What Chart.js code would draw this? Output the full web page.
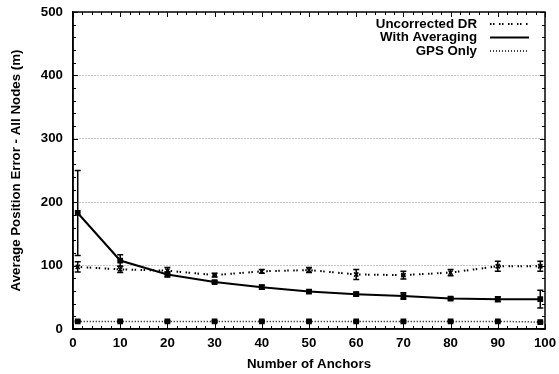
<!DOCTYPE html>
<html>
<head>
<meta charset="utf-8">
<script src="https://cdn.jsdelivr.net/npm/chart.js@4/dist/chart.umd.min.js"></script>
<style>
  body { margin: 0; background: #fff; }
  canvas { display: block; }
</style>
</head>
<body>
<canvas id="grafica" width="559" height="374"></canvas>
<script>
const anchors = [1, 10, 20, 30, 40, 50, 60, 70, 80, 90, 99];
const uncorrected = [98, 94, 92, 85, 91, 93, 86, 85, 89, 99, 99];
const uncorrectedErr = [8, 5, 5, 3, 3, 4, 8, 6, 5, 8, 8];
const averaging = [183, 108, 86, 74, 66, 59, 55, 52, 48, 47, 47];
const averagingErr = [67, 9, 4, 2, 3, 2, 3, 5, 2, 4, 14];
const gpsOnly = [12, 12, 12, 12, 12, 12, 12, 12, 12, 12, 11];
const gpsErr = [1, 1, 1, 1, 1, 1, 1, 1, 1, 1, 1];
const xTicks = [0, 10, 20, 30, 40, 50, 60, 70, 80, 90, 100];
const yTicks = [0, 100, 200, 300, 400, 500];

const fuente = { family: '"Liberation Sans", Arial, sans-serif', size: 13.3, weight: 'bold' };

const series = [
  { label: 'Uncorrected DR', values: uncorrected, err: uncorrectedErr, dash: [1.5, 1.5, 1.5, 4.5], width: 2, point: 'crossRot', radius: 3 },
  { label: 'With Averaging', values: averaging, err: averagingErr, dash: [], width: 2, point: 'rect', radius: 3 },
  { label: 'GPS Only', values: gpsOnly, err: gpsErr, dash: [1, 2], width: 1.5, point: 'rect', radius: 3 }
];

const marco = {
  id: 'marco',
  afterDatasetsDraw(chart) {
    const ctx = chart.ctx;
    const a = chart.chartArea;
    const xs = chart.scales.x;
    const ys = chart.scales.y;
    ctx.save();
    ctx.strokeStyle = '#000';

    // barras de error
    ctx.lineWidth = 1.5;
    ctx.setLineDash([]);
    series.forEach(s => {
      anchors.forEach((an, i) => {
        const px = xs.getPixelForValue(an);
        const top = ys.getPixelForValue(s.values[i] + s.err[i]);
        const bot = ys.getPixelForValue(s.values[i] - s.err[i]);
        ctx.beginPath();
        ctx.moveTo(px, top); ctx.lineTo(px, bot);
        ctx.moveTo(px - 3, top); ctx.lineTo(px + 3, top);
        ctx.moveTo(px - 3, bot); ctx.lineTo(px + 3, bot);
        ctx.stroke();
      });
    });

    // caja
    ctx.lineWidth = 1.5;
    ctx.strokeRect(a.left, a.top, a.right - a.left, a.bottom - a.top);

    // marcas hacia adentro
    ctx.lineWidth = 1;
    ctx.beginPath();
    for (let v = 0; v <= 100; v += 2) {
      const px = Math.round(xs.getPixelForValue(v)) + 0.5;
      const len = v % 10 === 0 ? 5 : 3;
      ctx.moveTo(px, a.bottom); ctx.lineTo(px, a.bottom - len);
      ctx.moveTo(px, a.top); ctx.lineTo(px, a.top + len);
    }
    for (let v = 0; v <= 500; v += 20) {
      const py = Math.round(ys.getPixelForValue(v)) + 0.5;
      const len = v % 100 === 0 ? 5 : 3;
      ctx.moveTo(a.left, py); ctx.lineTo(a.left + len, py);
      ctx.moveTo(a.right, py); ctx.lineTo(a.right - len, py);
    }
    ctx.stroke();

    // leyenda
    ctx.font = 'bold 13.3px "Liberation Sans", Arial, sans-serif';
    ctx.fillStyle = '#000';
    ctx.textAlign = 'right';
    ctx.textBaseline = 'middle';
    const filas = [24, 37.5, 51];
    series.forEach((s, i) => {
      ctx.fillText(s.label, 477, filas[i]);
      ctx.beginPath();
      ctx.lineWidth = s.width;
      ctx.setLineDash(s.dash);
      ctx.moveTo(490, filas[i]);
      ctx.lineTo(529, filas[i]);
      ctx.stroke();
    });
    ctx.restore();
  }
};

const data = {
  datasets: series.map(s => ({
    label: s.label,
    data: anchors.map((an, i) => ({ x: an, y: s.values[i] })),
    borderColor: '#000',
    backgroundColor: '#000',
    borderWidth: s.width,
    borderDash: s.dash,
    pointStyle: s.point,
    pointRadius: s.radius,
    pointBorderWidth: 1.5,
    pointBorderColor: '#000',
    pointBackgroundColor: '#000',
    fill: false,
    tension: 0
  }))
};

const config = {
  type: 'line',
  data: data,
  plugins: [marco],
  options: {
    responsive: false,
    animation: false,
    devicePixelRatio: 1,
    layout: { padding: { left: 0, right: 14, top: 12, bottom: 0 } },
    plugins: {
      legend: { display: false },
      tooltip: { enabled: false }
    },
    scales: {
      x: {
        type: 'linear',
        min: 0,
        max: 100,
        afterBuildTicks: scale => { scale.ticks = xTicks.map(v => ({ value: v })); },
        afterFit: scale => {
          scale.height = 45;
          scale.paddingLeft = 0;
          scale.paddingRight = 0;
        },
        ticks: { color: '#000', font: fuente, padding: 6, maxRotation: 0 },
        grid: { display: false, drawTicks: false },
        border: { display: true, color: '#000', width: 1.5 },
        title: { display: true, text: 'Number of Anchors', color: '#000', font: fuente, padding: { top: 0, bottom: 2 } }
      },
      y: {
        min: 0,
        max: 500,
        afterBuildTicks: scale => { scale.ticks = yTicks.map(v => ({ value: v })); },
        afterFit: scale => {
          scale.width = 73;
          scale.paddingTop = 0;
          scale.paddingBottom = 0;
        },
        ticks: { color: '#000', font: fuente, padding: 10 },
        grid: {
          drawTicks: false,
          lineWidth: 1,
          color: c => (c.tick && (c.tick.value === 0 || c.tick.value === 500)) ? 'rgba(0,0,0,0)' : '#888'
        },
        border: { display: true, color: '#000', width: 1.5, dash: [1, 2] },
        title: { display: true, text: 'Average Position Error - All Nodes (m)', color: '#000', font: fuente, padding: { top: 8, bottom: 0 } }
      }
    }
  }
};

const ctx = document.querySelector('#grafica');
const grafica = new Chart(ctx, config);
</script>
</body>
</html>
